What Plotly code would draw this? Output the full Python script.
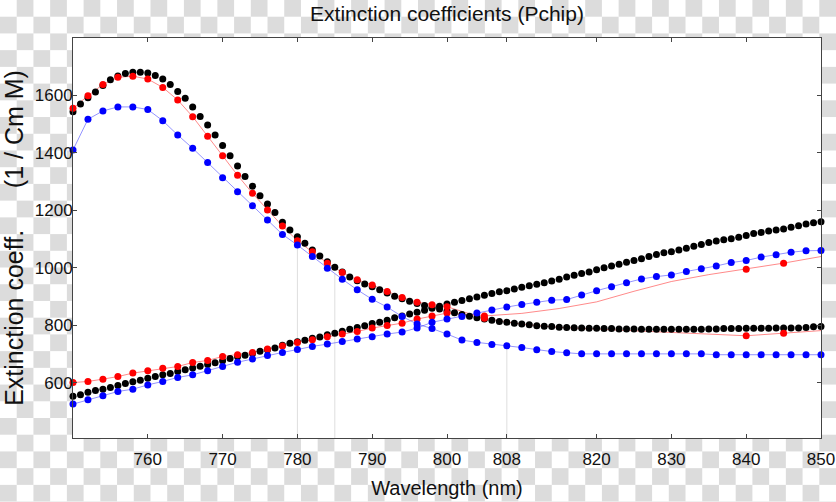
import base64
import plotly.graph_objects as go

# ---------------- data ----------------
wl_fine = list(range(750, 851))  # 1 nm grid (black dots)
black_hbr = [1543, 1570, 1592, 1612, 1635, 1655, 1668, 1676, 1681, 1681,
             1678, 1669, 1657, 1638, 1614, 1590, 1560, 1527, 1497, 1462,
             1426, 1390, 1354, 1318, 1284, 1251, 1222, 1192, 1158, 1131,
             1108, 1085, 1062, 1041, 1021, 1002, 985, 968, 955, 943,
             934, 923, 912, 901, 892, 883, 875, 868, 862, 856,
             849, 843, 837, 831, 826, 821, 817, 813, 810, 807,
             804, 801, 798, 796, 795, 793, 792, 791, 790, 789,
             789, 788, 788, 787, 787, 787, 786, 786, 786, 786,
             786, 786, 786, 786, 786, 787, 787, 788, 788, 788,
             789, 789, 789, 789, 790, 790, 790, 790, 792, 794, 795]
black_hbo2 = [552, 558, 566, 572, 577, 583, 590, 597, 603, 608,
              615, 621, 627, 632, 639, 645, 651, 657, 663, 669,
              676, 684, 690, 695, 701, 709, 714, 720, 730, 737,
              742, 747, 754, 759, 767, 772, 779, 786, 792, 798,
              806, 810, 817, 826, 832, 839, 845, 852, 859, 866,
              874, 880, 886, 892, 898, 904, 910, 916, 920, 926,
              932, 937, 942, 948, 954, 960, 968, 974, 980, 985,
              993, 1000, 1006, 1012, 1019, 1025, 1031, 1039, 1046, 1052,
              1056, 1062, 1068, 1075, 1081, 1088, 1093, 1097, 1101, 1106,
              1112, 1119, 1123, 1128, 1131, 1135, 1141, 1146, 1152, 1157, 1160]

# red: measured dots
red_wl = [750, 752, 754, 756, 758, 760, 762, 764, 766, 768, 770, 772, 774,
          776, 778, 780, 782, 784, 786, 788, 790, 792, 794, 796, 798, 800,
          805, 840, 845]
red_hbr = [1555, 1599, 1638, 1663, 1667, 1657, 1628, 1584, 1526, 1458, 1390,
           1322, 1259, 1201, 1145, 1094, 1056, 1016, 983, 958, 940, 917, 896,
           880, 871, 864, 824, 763, 772]
red_hbo2 = [600, 604, 612, 621, 633, 641, 650, 656, 670, 677, 691, 697, 705,
            717, 727, 740, 749, 760, 769, 778, 790, 799, 807, 821, 832, 842,
            832, 995, 1016]
# red: extra knots of the interpolated line (no dot drawn)
red_line_wl = [810, 815, 820, 825, 830, 835, 850]
red_line_hbr = [803, 792, 786, 779, 775, 769, 781]
red_line_hbo2 = [841, 858, 881, 918, 952, 976, 1039]

# blue: 2 nm grid
blue_wl = list(range(750, 851, 2))
blue_hbr = [1410, 1517, 1546, 1560, 1560, 1551, 1512, 1462, 1416, 1366,
            1313, 1265, 1216, 1166, 1116, 1079, 1039, 998, 960, 923,
            890, 863, 830, 804, 788, 769, 748, 740, 733, 728,
            722, 714, 708, 704, 700, 700, 700, 700, 700, 700,
            700, 700, 700, 697, 697, 697, 697, 697, 697, 697, 697]
blue_hbo2 = [525, 540, 554, 569, 577, 592, 604, 618, 627, 641,
             656, 671, 682, 694, 705, 715, 726, 734, 743, 752,
             760, 769, 776, 790, 810, 821, 830, 842, 853, 863,
             872, 880, 887, 889, 905, 920, 934, 948, 961, 969,
             975, 987, 996, 1006, 1018, 1025, 1037, 1045, 1054, 1059, 1060]

# vertical guide lines
guide_wl = [780, 785, 808]
guide_top = [1079, 979, 728]

x_ticks = [760, 770, 780, 790, 800, 808, 820, 830, 840, 850]
y_ticks = [600, 800, 1000, 1200, 1400, 1600]
x_range = [750, 850]
y_range = [407, 1800]

# ---------------- figure ----------------
W, H = 836, 502
ML, MR, MT, MB = 73, 15, 38, 64
PW, PH = W - ML - MR, H - MT - MB

fig = go.Figure()

# guide lines
gx, gy = [], []
for w, t in zip(guide_wl, guide_top):
    gx += [w, w, None]
    gy += [y_range[0], t, None]
fig.add_trace(go.Scatter(x=gx, y=gy, mode="lines",
                         line=dict(color="#dedede", width=1),
                         hoverinfo="skip", showlegend=False))

# red lines (merged dots + knots, sorted)
def merged(wa, va, wb, vb):
    pts = sorted(zip(wa + wb, va + vb))
    return [p[0] for p in pts], [p[1] for p in pts]

for vals, extra in ((red_hbr, red_line_hbr), (red_hbo2, red_line_hbo2)):
    mx, my = merged(red_wl, vals, red_line_wl, extra)
    fig.add_trace(go.Scatter(x=mx, y=my, mode="lines",
                             line=dict(color="rgba(255,60,60,0.6)", width=1),
                             hoverinfo="skip", showlegend=False))

# blue lines
for vals in (blue_hbr, blue_hbo2):
    fig.add_trace(go.Scatter(x=blue_wl, y=vals, mode="lines",
                             line=dict(color="rgba(60,60,255,0.55)", width=1),
                             hoverinfo="skip", showlegend=False))

# black dots
for vals in (black_hbr, black_hbo2):
    fig.add_trace(go.Scatter(x=wl_fine, y=vals, mode="markers",
                             marker=dict(color="black", size=7),
                             cliponaxis=False, showlegend=False))
# red dots
for vals in (red_hbr, red_hbo2):
    fig.add_trace(go.Scatter(x=red_wl, y=vals, mode="markers",
                             marker=dict(color="#ff0000", size=7),
                             cliponaxis=False, showlegend=False))
# blue dots
for vals in (blue_hbr, blue_hbo2):
    fig.add_trace(go.Scatter(x=blue_wl, y=vals, mode="markers",
                             marker=dict(color="#0000ff", size=7),
                             cliponaxis=False, showlegend=False))

# checkerboard background (transparency pattern) with white plot area
sq = 16.72
svg = (f"<svg xmlns='http://www.w3.org/2000/svg' width='{W}' height='{H}'>"
       f"<defs><pattern id='p' width='{2*sq}' height='{2*sq}' patternUnits='userSpaceOnUse'>"
       f"<rect width='{2*sq}' height='{2*sq}' fill='#ffffff'/>"
       f"<rect x='{sq}' width='{sq}' height='{sq}' fill='#dcdcdc'/>"
       f"<rect y='{sq}' width='{sq}' height='{sq}' fill='#dcdcdc'/>"
       f"</pattern></defs><rect width='{W}' height='{H}' fill='url(#p)'/>"
       f"<rect x='{ML}' y='{MT}' width='{PW}' height='{PH}' fill='#ffffff'/></svg>")
src = "data:image/svg+xml;base64," + base64.b64encode(svg.encode()).decode()

font = "Liberation Sans, Arial, sans-serif"
axis_common = dict(showline=True, linecolor="#444", linewidth=1, mirror="ticks",
                   ticks="inside", ticklen=4, tickcolor="#444", showgrid=False,
                   zeroline=False, tickfont=dict(size=17, color="#111", family=font))

fig.update_layout(
    width=W, height=H,
    margin=dict(l=ML, r=MR, t=MT, b=MB, autoexpand=False),
    paper_bgcolor="white", plot_bgcolor="white",
    images=[dict(source=src, xref="paper", yref="paper",
                 x=-ML / PW, y=1 + MT / PH, sizex=W / PW, sizey=H / PH,
                 xanchor="left", yanchor="top", sizing="stretch", layer="below")],
    title=dict(text="Extinction coefficients (Pchip)", x=0.5, xref="paper",
               xanchor="center", y=1 - 14 / H, yanchor="middle",
               font=dict(size=21, color="#111", family=font)),
    xaxis=dict(range=x_range, tickvals=x_ticks, ticktext=[str(v) for v in x_ticks],
               title=dict(text="Wavelength (nm)", standoff=12,
                          font=dict(size=20, color="#111", family=font)),
               ticklabelstandoff=6, **axis_common),
    yaxis=dict(range=y_range, tickvals=y_ticks, ticklabelstandoff=-4,
               title=dict(text="Extinction coeff.\u00a0\u00a0\u00a0\u00a0\u00a0\u00a0(1 / Cm M)",
                          standoff=6, font=dict(size=25, color="#111", family=font)),
               **axis_common),
)

fig.write_html("out.html", config={"displayModeBar": False},
               post_script="document.body.style.margin='0';document.body.style.overflow='hidden';")
